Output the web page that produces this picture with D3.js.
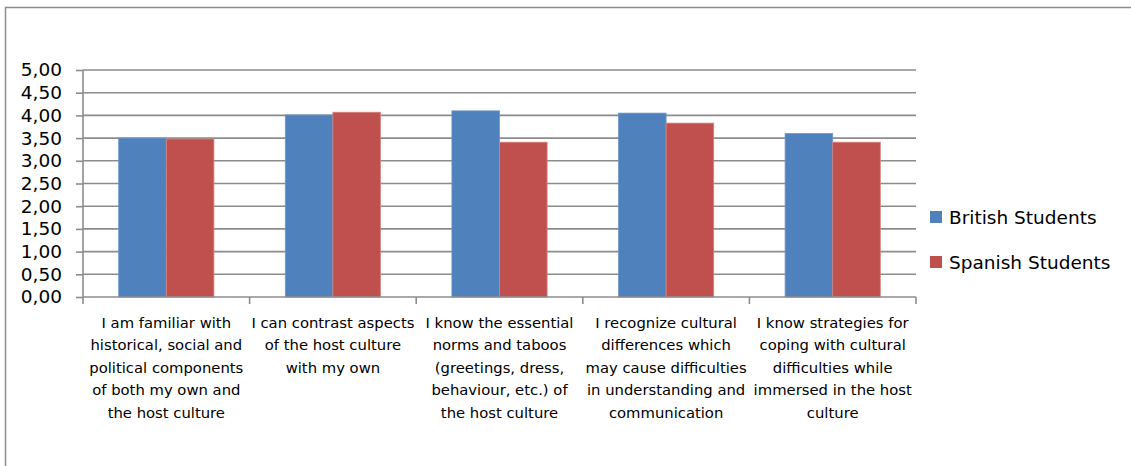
<!DOCTYPE html>
<html>
<head>
<meta charset="utf-8">
<script src="https://cdn.jsdelivr.net/npm/d3@7/dist/d3.min.js"></script>
<style>
  html, body { margin: 0; padding: 0; background: #fff; }
  svg { display: block; }
  text { font-family: "DejaVu Sans", sans-serif; fill: #000; }
</style>
</head>
<body>
<svg id="chart" width="1131" height="466"></svg>
<script>
// Statements rated by each student group
const categories = [
  ["I am familiar with", "historical, social and", "political components", "of both my own and", "the host culture"],
  ["I can contrast aspects", "of the host culture", "with my own"],
  ["I know the essential", "norms and taboos", "(greetings, dress,", "behaviour, etc.) of", "the host culture"],
  ["I recognize cultural", "differences which", "may cause difficulties", "in understanding and", "communication"],
  ["I know strategies for", "coping with cultural", "difficulties while", "immersed in the host", "culture"]
];
const seriesNames = ["British Students", "Spanish Students"];
const britishValues = [3.50, 4.01, 4.10, 4.05, 3.60];
const spanishValues = [3.48, 4.07, 3.41, 3.83, 3.41];
const yTicks = [0, 0.5, 1, 1.5, 2, 2.5, 3, 3.5, 4, 4.5, 5];
const colors = ["#4f81bd", "#c0504d"];

const svg = d3.select("#chart");
const plot = { left: 83, right: 916, top: 70, bottom: 297 };

// Outer chart frame
svg.append("rect")
  .attr("x", 5.5).attr("y", 7.5)
  .attr("width", 1140).attr("height", 470)
  .attr("fill", "none").attr("stroke", "#8c8c8c").attr("stroke-width", 1.5);

const idx = d3.range(categories.length);
const x0 = d3.scaleBand().domain(idx).range([plot.left, plot.right]).paddingInner(0).paddingOuter(0);
// two bars per category, gap of 150% of a bar width split around the pair
const x1 = d3.scaleBand().domain([0, 1])
  .range([0, x0.bandwidth()]).paddingInner(0).paddingOuter(0.75);
const y = d3.scaleLinear().domain([0, 5]).range([plot.bottom, plot.top]);

const fmt = v => v.toFixed(2).replace(".", ",");

// Horizontal gridlines
svg.append("g")
  .selectAll("line").data(yTicks.filter(t => t > 0)).join("line")
  .attr("x1", plot.left).attr("x2", plot.right)
  .attr("y1", d => y(d)).attr("y2", d => y(d))
  .attr("stroke", "#8c8c8c").attr("stroke-width", 1.6);

// Bars
const series = [britishValues, spanishValues];
series.forEach((vals, s) => {
  svg.append("g").selectAll("rect").data(vals).join("rect")
    .attr("x", (d, i) => x0(i) + x1(s))
    .attr("y", d => y(d))
    .attr("width", x1.bandwidth())
    .attr("height", d => y(0) - y(d))
    .attr("fill", colors[s])
    .attr("stroke", s === 0 ? "#6b96cc" : "#d8837f")
    .attr("stroke-width", 0.8);
});

// Y axis
const yAxis = d3.axisLeft(y).tickValues(yTicks).tickFormat(fmt).tickSize(7).tickPadding(14);
const gy = svg.append("g").attr("transform", `translate(${plot.left},0)`).call(yAxis);
gy.select(".domain").attr("stroke", "#8c8c8c").attr("stroke-width", 1.6).attr("d", `M0,${plot.top}V${plot.bottom}`);
gy.selectAll(".tick line").attr("stroke", "#8c8c8c").attr("stroke-width", 1.6);
gy.selectAll(".tick text").attr("font-size", 18.5).attr("font-family", "'DejaVu Sans', sans-serif").attr("fill", "#000");

// X axis: ticks at category boundaries
const boundaries = d3.range(categories.length + 1).map(i => plot.left + i * x0.step());
svg.append("line")
  .attr("x1", plot.left).attr("x2", plot.right)
  .attr("y1", plot.bottom).attr("y2", plot.bottom)
  .attr("stroke", "#8c8c8c").attr("stroke-width", 1.6);
svg.append("g").selectAll("line").data(boundaries).join("line")
  .attr("x1", d => d).attr("x2", d => d)
  .attr("y1", plot.bottom).attr("y2", plot.bottom + 7)
  .attr("stroke", "#8c8c8c").attr("stroke-width", 1.6);

// Category labels
const lab = svg.append("g").selectAll("text").data(categories).join("text")
  .attr("text-anchor", "middle")
  .attr("font-size", 14.8);
lab.each(function(lines, i) {
  const t = d3.select(this);
  lines.forEach((ln, k) => {
    t.append("tspan")
      .attr("x", x0(i) + x0.bandwidth() / 2)
      .attr("y", 328 + k * 22.4)
      .text(ln);
  });
});

// Legend
const legend = svg.append("g").selectAll("g").data(seriesNames).join("g")
  .attr("transform", (d, i) => `translate(930,${211 + i * 45})`);
legend.append("rect").attr("width", 12).attr("height", 12).attr("fill", (d, i) => colors[i]);
legend.append("text").attr("x", 19).attr("y", 13).attr("font-size", 18.5).text(d => d);
</script>
</body>
</html>
